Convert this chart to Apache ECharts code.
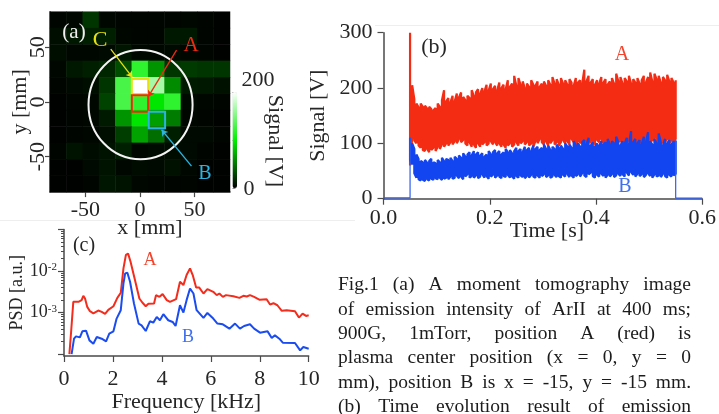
<!DOCTYPE html>
<html><head><meta charset="utf-8">
<style>html,body{margin:0;padding:0;background:#fff;overflow:hidden}#main{width:719px;height:414px;filter:blur(0.5px)}</style>
<script src="https://cdn.jsdelivr.net/npm/echarts@6/dist/echarts.min.js"></script>
</head><body><div id="main"></div>
<script>
// ---------- panel (a) data ----------
const cellCentres = [-75,-60,-45,-30,-15,0,15,30,45,60,75];
const heatTopDown = [
 [ 2, 3,22, 3, 2, 2, 2, 2, 3, 2, 1],
 [ 6,10,13,13, 3, 2, 2,10,10, 2, 1],
 [ 6, 3, 3, 4, 9, 3, 3, 4, 3, 2, 1],
 [ 3,10,13,16,32,118,62,22,24,22,22],
 [ 2, 4, 6,22,128,200,165,58,11,10, 7],
 [ 1, 2, 3,28,128,118,96,118, 4, 3, 2],
 [ 1, 2, 3,11,62,96,66,52, 3, 2, 1],
 [ 1, 2, 3, 6,26,68,46,13, 4, 4, 2],
 [ 2, 8, 5, 8,13, 3, 4, 5, 4, 2, 1],
 [ 1, 1, 4, 8, 3, 5, 4, 7, 3, 1, 1],
 [ 1, 1, 2, 9, 8, 3, 2, 2, 2, 1, 1]
];
const mapTicks = [-50,0,50];
const circleSpec = [[0.5,-2.5,47.7,50]];
const squareSpec = [[0,13.5,7.5,'#e8e010'],[0,-1.5,7.5,'#f02a10'],[15.5,-16.5,7.5,'#2bb4e0']];
const arrowSpec = [
 [[-26.8,48.2],[-7,22.4],'#e8e010'],
 [[33.5,47.3],[7.6,4.8],'#f02a10'],
 [[47.2,-58.8],[19.8,-25.5],'#2bb4e0']
];
// ---------- panel (b) data ----------
const timeMs = [
 50,54,58,62,66,70,74,78,82,86, 90,94,98,102,106,110,114,118,122,126,
 130,134,138,142,146,150,154,158,162,166, 170,174,178,182,186,190,194,198,202,206,
 210,214,218,222,226,230,234,238,242,246, 250,254,258,262,266,270,274,278,282,286,
 290,294,298,302,306,310,314,318,322,326, 330,334,338,342,346,350,354,358,362,366,
 370,374,378,382,386,390,394,398,402,406, 410,414,418,422,426,430,434,438,442,446,
 450,454,458,462,466,470,474,478,482,486, 490,494,498,502,506,510,514,518,522,526,
 530,534,538,542,546,550];
const redHi = [
 300,205,180,172,165,172,166,168,163,166, 162,160,164,172,166,178,196,176,182,174,
 186,176,190,183,192,184,178,186,182,196, 186,192,198,190,200,194,206,196,208,198,
 204,196,210,200,206,198,214,202,208,222, 204,218,206,212,200,208,202,214,206,204,
 212,202,208,212,204,214,206,220,208,216, 206,218,208,214,206,216,210,204,218,210,
 214,208,233,212,222,210,216,206,214,208, 220,210,216,206,212,218,208,226,212,220,
 208,218,212,222,208,216,210,218,208,214, 222,210,220,228,212,226,216,222,210,220,
 214,224,212,218,210,214];
const redLo = [
 60,110,105,100,96,92,88,86,90,84, 88,92,86,94,90,98,94,100,96,102,
 98,104,100,108,102,106,100,96,102,94, 98,92,100,94,98,102,96,100,104,98,
 102,96,100,94,98,92,96,100,94,98, 102,96,100,104,98,102,96,100,94,104,
 100,108,102,98,104,96,100,106,98,102, 96,102,106,100,104,98,108,102,96,104,
 100,106,98,104,110,100,104,98,106,102, 108,100,104,96,102,98,104,100,108,102,
 98,104,100,108,96,102,106,98,104,100, 108,102,106,98,104,110,100,106,98,104,
 102,108,100,106,104,108];
const blueHi = [
 110,100,90,80,72,68,66,70,65,68, 72,66,64,70,66,74,68,72,70,74,
 68,76,72,78,74,82,76,80,84,78, 86,80,84,78,82,76,80,86,80,84,
 88,82,86,80,84,90,84,88,82,86, 92,86,90,84,94,88,92,86,96,90,
 94,88,92,98,90,96,88,94,90,98, 92,96,90,100,94,98,92,104,96,100,
 94,102,106,98,110,96,102,94,100,96, 104,98,102,108,98,104,100,112,102,96,
 104,100,110,98,122,102,108,100,106,98, 112,102,120,104,98,108,100,118,102,96,
 108,100,106,98,104,105];
const blueLo = [
 70,62,46,38,35,33,34,32,35,33, 36,34,37,35,38,34,36,38,35,40,
 36,38,42,37,40,35,40,44,38,41, 38,42,37,40,44,38,41,36,40,43,
 38,42,40,37,41,39,43,38,40,36, 41,38,42,39,37,41,38,43,40,38,
 42,38,41,44,39,42,38,40,43,39, 41,38,43,40,45,39,42,38,41,44,
 40,46,42,39,44,47,41,38,43,40, 45,41,38,43,40,44,39,42,45,41,
 44,40,47,42,48,43,40,45,41,44, 39,43,46,41,38,44,40,42,39,45,
 41,38,43,40,42,45];
const edgeLine = [[0,1.5],[0.05,1.5],[0.05,110],null,[0.55,105],[0.55,1.2],[0.6,1.2]];
// ---------- panel (c) data ----------
const psdA = [[0.22,1e-4],[0.29,3.4e-4],[0.38,1.81e-3],[0.59,1.81e-3],[0.72,1.99e-3],[0.79,2.53e-3],[0.86,2.18e-3],[0.95,1.37e-3],[1.06,1.08e-3],[1.2,0.96e-3],[1.4,1.12e-3],[1.54,1.04e-3],[1.68,0.93e-3],[1.81,1.16e-3],[2.02,1.42e-3],[2.18,2.26e-3],[2.32,2.99e-3],[2.43,1.16e-2],[2.53,2.44e-2],[2.62,2.63e-2],[2.72,1.68e-2],[2.9,6.06e-3],[3.08,2.18e-3],[3.2,1.75e-3],[3.34,1.42e-3],[3.45,1.62e-3],[3.68,1.65e-3],[3.76,2.63e-3],[3.9,2.39e-3],[4.03,2.78e-3],[4.2,1.99e-3],[4.33,1.81e-3],[4.58,2.1e-3],[4.74,5.52e-3],[4.88,4.59e-3],[5.01,8e-3],[5.15,1.16e-2],[5.26,8e-3],[5.4,4.03e-3],[5.52,4.03e-3],[5.7,2.88e-3],[5.86,3.67e-3],[6.1,3.16e-3],[6.24,2.63e-3],[6.35,2.88e-3],[6.49,2.39e-3],[6.62,2.63e-3],[6.92,2.48e-3],[7.17,2.26e-3],[7.33,2.53e-3],[7.47,2.44e-3],[7.6,2.63e-3],[7.77,2.39e-3],[8.0,2.03e-3],[8.28,2.1e-3],[8.42,1.56e-3],[8.56,1.68e-3],[8.72,1.5e-3],[8.9,1.1e-3],[9.1,1.14e-3],[9.44,1.08e-3],[9.6,0.757e-3],[9.75,0.946e-3],[9.89,0.83e-3],[10,0.86e-3]];
const psdB = [[0.31,1e-4],[0.41,2.35e-4],[0.49,2.67e-4],[0.65,2.53e-4],[0.75,3.53e-4],[0.9,3.67e-4],[1.04,2.14e-4],[1.2,1.78e-4],[1.34,2.58e-4],[1.54,2.35e-4],[1.72,2.02e-4],[1.85,3.1e-4],[2.02,3.53e-4],[2.15,7.16e-4],[2.32,1.14e-3],[2.43,5.03e-3],[2.5,8.79e-3],[2.59,9.12e-3],[2.7,5.52e-3],[2.86,1.65e-3],[3.05,5.42e-4],[3.17,4.94e-4],[3.34,3.6e-4],[3.51,6.17e-4],[3.65,5.73e-4],[3.79,7.85e-4],[3.92,6.53e-4],[4.06,9.12e-4],[4.26,6.53e-4],[4.44,5.94e-4],[4.56,4.75e-4],[4.74,1.5e-3],[4.88,1e-3],[5.01,1.99e-3],[5.15,3.81e-3],[5.29,2.88e-3],[5.42,1.14e-3],[5.7,7.43e-4],[5.86,9.8e-4],[6.1,7.16e-4],[6.27,5.42e-4],[6.49,5.22e-4],[6.76,4.1e-4],[6.99,5.42e-4],[7.19,4.1e-4],[7.36,4.75e-4],[7.44,4.34e-4],[7.6,5.22e-4],[7.77,4.1e-4],[8.01,3.28e-4],[8.32,3.53e-4],[8.49,2.44e-4],[8.62,2.83e-4],[8.8,2.35e-4],[8.94,1.88e-4],[9.44,1.85e-4],[9.65,1.23e-4],[9.78,1.48e-4],[10,1.35e-4]];
const psdDecades = [1e-4,1e-3,1e-2,1e-1];
const psdMinor = [2e-4,3e-4,4e-4,5e-4,6e-4,7e-4,8e-4,9e-4,2e-3,3e-3,4e-3,5e-3,6e-3,7e-3,8e-3,9e-3,2e-2,3e-2,4e-2,5e-2,6e-2,7e-2,8e-2,9e-2];
const exponentText = {'-3':'{b|10}{s|-3}','-2':'{b|10}{s|-2}'};
// ---------- caption ----------
const captionLines = [
 'Fig.1 (a) A moment tomography image',
 'of emission intensity of ArII at 400 ms;',
 '900G, 1mTorr, position A (red) is',
 'plasma center position (x = 0, y = 0',
 'mm), position B is x = -15, y = -15 mm.',
 '(b) Time evolution result of emission'
];

const SERIF = '"Liberation Serif","Times New Roman",serif';
const INK = '#262626', AXIS = '#4a4a4a';
const RED = '#f42c14', BLUE = '#1244f0';

function fillPath(hi, lo){
  const pts = [];
  timeMs.forEach((ms,i)=>{
    const t = ms/1000;
    if(i%2===0){pts.push([t,hi[i]],[t,lo[i]]);} else {pts.push([t,lo[i]],[t,hi[i]]);}
  });
  return pts;
}
function label(text,x,y,size,fill,rot){
  return {type:'text',x,y,rotation:rot||0,z:20,silent:true,
    style:{text,fill:fill||INK,font:size+'px '+SERIF,align:'center',verticalAlign:'middle'}};
}
function axisBase(extra){
  return Object.assign({
    nameMoveOverlap:false,
    axisLine:{show:true,onZero:false,lineStyle:{color:AXIS,width:1.5}},
    axisTick:{show:true,length:6,lineStyle:{color:AXIS,width:1.2}},
    splitLine:{show:false},
    axisLabel:{fontFamily:SERIF,fontSize:22,color:INK,margin:6},
    nameTextStyle:{fontFamily:SERIF,fontSize:22,color:INK}
  },extra);
}
// justified caption
const measure = document.createElement('canvas').getContext('2d');
const capSize = 19.5, capLeft = 338, capRight = 691, capTop = 285, capStep = 24.45;
measure.font = capSize+'px '+SERIF;
const captionEls = [];
captionLines.forEach((line,row)=>{
  const words = line.split(' ');
  const widths = words.map(w=>measure.measureText(w).width);
  const gap = (capRight-capLeft-widths.reduce((a,b)=>a+b,0))/(words.length-1);
  let x = capLeft;
  words.forEach((w,i)=>{
    captionEls.push({type:'text',x,y:capTop+row*capStep,silent:true,
      style:{text:w,fill:'#1c1c1c',font:capSize+'px '+SERIF,align:'left',verticalAlign:'middle'}});
    x += widths[i]+gap;
  });
});

const heatData = [];
heatTopDown.forEach((row,r)=>row.forEach((v,c)=>heatData.push([c,10-r,v])));
const cats = cellCentres.map(String);

const option = {
  backgroundColor:'#fff',
  animation:false,
  grid:[
    {left:50,top:11.7,width:180,height:180.4},   // a heat cells
    {left:50,top:11.7,width:180,height:180.4},   // a value overlay
    {left:383.5,top:32.7,width:319.5,height:166},// b
    {left:64,top:229.5,width:244.7,height:126.5},// c
    {left:232.5,top:92,width:4.5,height:96}      // colour bar ticks
  ],
  xAxis:[
    {gridIndex:0,type:'category',data:cats,show:false},
    axisBase({gridIndex:1,type:'value',min:-82.5,max:82.5,position:'bottom',
      axisTick:{show:true,length:5,customValues:mapTicks,lineStyle:{color:AXIS,width:1.2}},
      axisLabel:{fontFamily:SERIF,fontSize:22,color:INK,margin:7,customValues:mapTicks},
      name:'x [mm]',nameLocation:'middle',nameGap:25,nameTextStyle:{fontFamily:SERIF,fontSize:22,color:INK,padding:[0,0,0,20]}}),
    axisBase({gridIndex:2,type:'value',min:0,max:0.6,interval:0.2,
      axisLabel:{fontFamily:SERIF,fontSize:22,color:INK,margin:9,formatter:v=>v.toFixed(1)},
      name:'Time [s]',nameLocation:'middle',nameGap:22,nameTextStyle:{fontFamily:SERIF,fontSize:22,color:INK,padding:[0,0,0,8]}}),
    axisBase({gridIndex:3,type:'value',min:0,max:10,interval:2,
      axisLabel:{fontFamily:SERIF,fontSize:22,color:INK,margin:12},
      name:'Frequency [kHz]',nameLocation:'middle',nameGap:35}),
    {gridIndex:4,type:'value',min:0,max:1,show:false}
  ],
  yAxis:[
    {gridIndex:0,type:'category',data:cats,show:false},
    axisBase({gridIndex:1,type:'value',min:-82.5,max:82.5,position:'left',
      axisTick:{show:true,length:5,customValues:mapTicks,lineStyle:{color:AXIS,width:1.2}},
      axisLabel:{fontFamily:SERIF,fontSize:22,color:INK,margin:1,rotate:90,customValues:mapTicks},
      name:'y [mm]',nameLocation:'middle',nameGap:19}),
    axisBase({gridIndex:2,type:'value',min:0,max:300,interval:100,
      axisLabel:{fontFamily:SERIF,fontSize:22,color:INK,margin:11},
      name:'Signal [V]',nameLocation:'middle',nameGap:54}),
    axisBase({gridIndex:3,type:'log',logBase:10,min:9e-5,max:1e-1,
      axisTick:{show:true,length:6,customValues:psdDecades,lineStyle:{color:AXIS,width:1.2}},
      axisLabel:{fontFamily:SERIF,color:INK,margin:7,customValues:[1e-3,1e-2],
        formatter:v=>exponentText[String(Math.round(Math.log10(v)))]||'',
        rich:{b:{fontFamily:SERIF,fontSize:18,color:INK},s:{fontFamily:SERIF,fontSize:11,color:INK,verticalAlign:'top',padding:[0,0,6,0]}}},
      name:'PSD [a.u.]',nameLocation:'middle',nameGap:38,nameTextStyle:{fontFamily:SERIF,fontSize:18,color:INK}}),
    axisBase({gridIndex:3,type:'log',logBase:10,min:9e-5,max:1e-1,position:'left',
      axisLine:{show:false},axisLabel:{show:false},
      axisTick:{show:true,length:3,customValues:psdMinor,lineStyle:{color:AXIS,width:1}}}),
    {gridIndex:4,type:'value',min:0,max:200,interval:100,position:'right',
      axisLine:{show:false},splitLine:{show:false},axisLabel:{show:false},
      axisTick:{show:true,length:3,lineStyle:{color:'#8a8a8a',width:1}}}
  ],
  visualMap:{
    type:'continuous',seriesIndex:0,dimension:2,min:0,max:200,
    inRange:{color:['#000000','#00f000','#ffffff']},
    orient:'vertical',left:232.5,top:92,itemWidth:4.5,itemHeight:96,
    text:null,showLabel:false,calculable:false,hoverLink:false,padding:0,
    textStyle:{fontSize:0,color:'rgba(0,0,0,0)'},
    formatter:()=>''
  },
  series:[
    {type:'heatmap',xAxisIndex:0,yAxisIndex:0,data:heatData,z:2,progressive:0},
    {type:'custom',xAxisIndex:1,yAxisIndex:1,z:5,clip:false,data:circleSpec,encode:{x:0,y:1},
      renderItem:(p,api)=>{
        const c=api.coord([api.value(0),api.value(1)]);
        const s=api.size([api.value(2),api.value(3)]);
        return {type:'ellipse',shape:{cx:c[0],cy:c[1],rx:s[0],ry:s[1]},style:{fill:null,stroke:'#f4f4f4',lineWidth:2}};
      }},
    {type:'custom',xAxisIndex:1,yAxisIndex:1,z:6,clip:false,data:squareSpec,encode:{x:0,y:1},
      renderItem:(p,api)=>{
        const d=squareSpec[p.dataIndex];
        const a=api.coord([d[0]-d[2],d[1]+d[2]]),b=api.coord([d[0]+d[2],d[1]-d[2]]);
        return {type:'rect',shape:{x:a[0],y:a[1],width:b[0]-a[0],height:b[1]-a[1]},style:{fill:null,stroke:d[3],lineWidth:2}};
      }},
    {type:'lines',coordinateSystem:'cartesian2d',xAxisIndex:1,yAxisIndex:1,z:7,
      symbol:['none','arrow'],symbolSize:6,
      data:arrowSpec.map(a=>({coords:[a[0],a[1]],lineStyle:{color:a[2],width:1.3,opacity:1}}))},
    {type:'line',name:'A',xAxisIndex:2,yAxisIndex:2,showSymbol:false,symbol:'none',
      data:fillPath(redHi,redLo),
      lineStyle:{color:RED,width:2.2,join:'bevel'},z:3},
    {type:'line',name:'B',xAxisIndex:2,yAxisIndex:2,showSymbol:false,symbol:'none',
      data:fillPath(blueHi,blueLo),
      lineStyle:{color:BLUE,width:2.2,join:'bevel'},z:4},
    {type:'line',name:'B edge',xAxisIndex:2,yAxisIndex:2,showSymbol:false,symbol:'none',connectNulls:false,
      data:edgeLine.map(p=>p===null?['-','-']:p),
      lineStyle:{color:'#2c5cf2',width:1.2},z:5},
    {type:'line',name:'A',xAxisIndex:3,yAxisIndex:3,showSymbol:false,symbol:'none',data:psdA,
      lineStyle:{color:'#f42c1c',width:2},z:3},
    {type:'line',name:'B',xAxisIndex:3,yAxisIndex:3,showSymbol:false,symbol:'none',data:psdB,
      lineStyle:{color:'#1a4cf0',width:2},z:4},
    {type:'line',xAxisIndex:3,yAxisIndex:4,data:[],silent:true},
    {type:'line',xAxisIndex:4,yAxisIndex:5,data:[],silent:true}
  ],
  graphic:{elements:[
    {type:'line',shape:{x1:375,y1:25.5,x2:719,y2:25.5},style:{stroke:'#eeeeee',lineWidth:1},silent:true},
    {type:'line',shape:{x1:0,y1:220.5,x2:355,y2:220.5},style:{stroke:'#eeeeee',lineWidth:1},silent:true},
    label('(a)',74,32,21,'#f0f0f0'),
    label('C',100,40,22,'#e8e010'),
    label('A',191,45,21,'#f02a10'),
    label('B',205,174,20,'#2bb4e0'),
    label('200',258,80,22),
    label('0',249,189,22),
    label('Signal [V]',275,141,22,INK,-Math.PI/2),
    label('(b)',434,47,22),
    label('A',622,55,20,'#f4442c'),
    label('B',625,187,20,'#3f70f0'),
    label('(c)',84,246,20),
    label('A',150,260,18,'#f4442c'),
    label('B',188,337,18,'#3f70f0')
  ].concat(captionEls)}
};
const chart = echarts.init(document.getElementById('main'),null,{renderer:'canvas'});
chart.setOption(option);
</script></body></html>
